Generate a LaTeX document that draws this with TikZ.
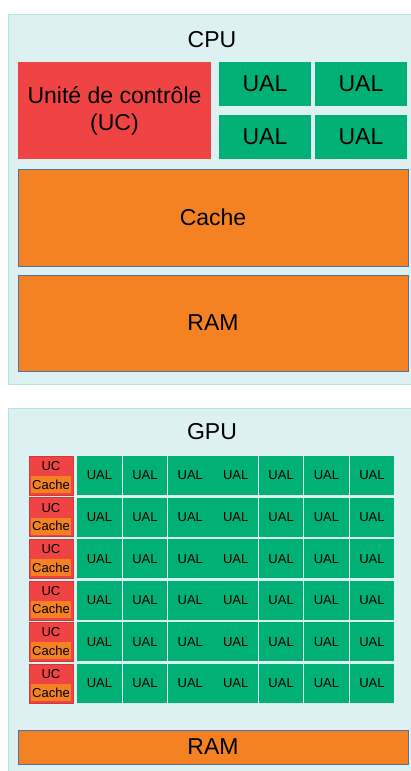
\documentclass[tikz,border=0pt]{standalone}
\usepackage{fontspec}
\setmainfont{Liberation Sans}
\usetikzlibrary{positioning}
\definecolor{panelbg}{HTML}{DDF0F2}
\definecolor{panelline}{HTML}{B5E2E2}
\definecolor{ucred}{HTML}{F04444}
\definecolor{ualgreen}{HTML}{00B074}
\definecolor{memorange}{HTML}{F48222}
\definecolor{memline}{HTML}{4F70A4}
\newcommand{\bigtxt}{\fontsize{23}{27}\selectfont}
\newcommand{\smalltxt}{\fontsize{13}{15}\selectfont}

\begin{document}
\begin{tikzpicture}[x=1pt, y=-1pt,
		panel/.style={fill=panelbg, draw=panelline, line width=1pt},
		blk/.style={rectangle, inner sep=0pt, text=black},
		ucbox/.style={blk, fill=ucred, font=\bigtxt, align=center},
		ualbox/.style={blk, fill=ualgreen, font=\bigtxt, minimum width=92pt, minimum height=44pt},
		membox/.style={blk, fill=memorange, draw=memline, line width=0.8pt, font=\bigtxt, minimum width=390pt},
		cell/.style={blk, fill=ualgreen, font=\smalltxt, minimum width=44.5pt, minimum height=39pt},
		ctrl/.style={blk, fill=ucred, draw=ucred!85!black, line width=0.5pt, minimum width=44pt, minimum height=39pt},
		ctrlcache/.style={blk, fill=memorange, font=\smalltxt, minimum width=40pt, minimum height=17pt}]
	\useasboundingbox (0,0) rectangle (410,771);
	% CPU
	\draw[panel] (8,14) rectangle (414,384);
	\node[blk, font=\bigtxt] (CPU) at (212,40) {CPU};
	\node[ucbox, minimum width=193pt, minimum height=97pt] (uc) at (114.5,110.5) {Unité de contrôle\\(UC)};
	\foreach \x/\y/\alph in {
		265/84/ual1,
		361/84/ual2,
		265/137/ual3,
		361/137/ual4
	}{
		\node[ualbox] (\alph) at (\x,\y) {UAL};
	}
	\node[membox, minimum height=97pt] (cache) at (213,217.5) {Cache};
	\node[membox, minimum height=96pt] (ram) at (213,323) {RAM};
	% GPU
	\draw[panel] (8,408) rectangle (414,775);
	\node[blk, font=\bigtxt] (GPU) at (212,432) {GPU};
	\foreach \i in {0,...,5}
	{
		\pgfmathsetmacro{\y}{475.5+41.6*\i}
		\node[ctrl] (ctrl\i) at (51,\y) {};
		\node[blk, font=\smalltxt] (ctrluc\i) at ([yshift=9.5pt]ctrl\i.center) {UC};
		\node[ctrlcache] (ctrlcache\i) at ([yshift=-9pt]ctrl\i.center) {Cache};
		\foreach \j in {0,...,6}
		{
			\pgfmathsetmacro{\x}{99.5+45.4*\j}
			\node[cell] (cell\i\j) at (\x,\y) {UAL};
		}
	}
	\node[membox, minimum height=34pt] (gram) at (213,747) {RAM};
\end{tikzpicture}
\end{document}
